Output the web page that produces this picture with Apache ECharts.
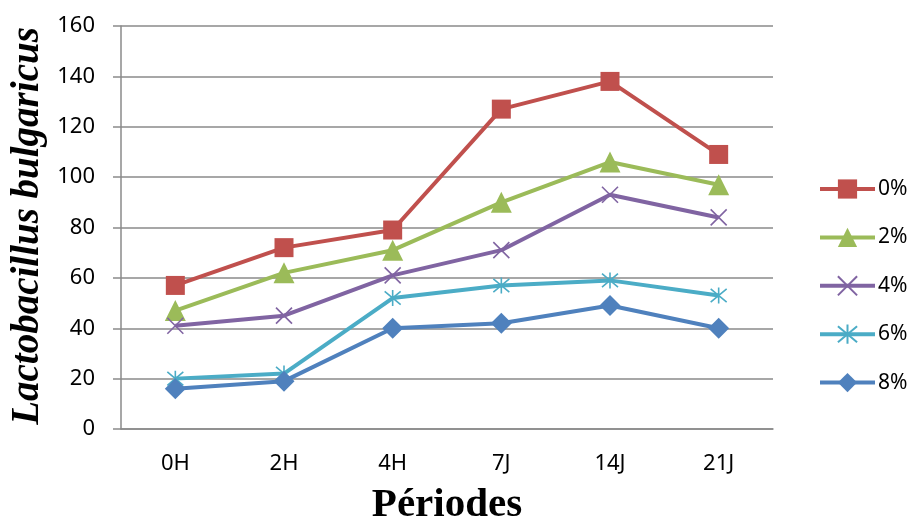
<!DOCTYPE html>
<html>
<head>
<meta charset="utf-8">
<script src="https://cdn.jsdelivr.net/npm/echarts@6/dist/echarts.min.js"></script>
<style>
  html, body { margin: 0; padding: 0; background: #fff; }
  #chart { width: 908px; height: 528px; }
</style>
</head>
<body>
<div id="chart"></div>
<script>
// Sampling periods (hours, then days)
const periods = ['0H', '2H', '4H', '7J', '14J', '21J'];

// Lactobacillus bulgaricus counts per concentration
const s0 = [57, 72, 79, 127, 138, 109];
const s2 = [47, 62, 71, 90, 106, 97];
const s4 = [41, 45, 61, 71, 93, 84];
const s6 = [20, 22, 52, 57, 59, 53];
const s8 = [16, 19, 40, 42, 49, 40];

const seriesNames = ['0%', '2%', '4%', '6%', '8%'];
const yTicks = { min: 0, max: 160, interval: 20 };

const colors = ['#C0504D', '#9BBB59', '#8064A2', '#4BACC6', '#4F81BD'];
const CROSS = 'path://M0,0L10,10M10,0L0,10';
const STAR = 'path://M0,0L10,10M10,0L0,10M5,-1L5,11';

function makeSeries(name, data, color, symbol, size, stroked) {
  return {
    name: name,
    type: 'line',
    data: data,
    symbol: symbol,
    symbolSize: size,
    showSymbol: true,
    lineStyle: { color: color, width: 4 },
    itemStyle: stroked
      ? { color: color, borderColor: color, borderWidth: 1.6 }
      : { color: color, borderWidth: 0 },
    emphasis: { disabled: true },
    z: 3
  };
}

const chart = echarts.init(document.getElementById('chart'), null, { renderer: 'canvas' });

chart.setOption({
  animation: false,
  backgroundColor: '#ffffff',
  grid: { left: 121, top: 26, right: 135, bottom: 99, containLabel: false },
  legend: {
    orient: 'vertical',
    left: 813,
    top: 172,
    itemWidth: 55,
    itemHeight: 24,
    itemGap: 24.4,
    lineStyle: { width: 4 },
    textStyle: { fontFamily: 'Noto Sans', fontSize: 21, lineHeight: 24, color: '#000', padding: [0, 0, 0, -2] },
    data: seriesNames
  },
  xAxis: {
    type: 'category',
    data: periods,
    boundaryGap: true,
    axisLine: { show: true, lineStyle: { color: '#8a8a8a', width: 1.5 } },
    axisTick: { show: false },
    axisLabel: { fontFamily: 'Noto Sans', fontSize: 22, color: '#000', margin: 24 },
    splitLine: { show: false }
  },
  yAxis: {
    type: 'value',
    min: yTicks.min,
    max: yTicks.max,
    interval: yTicks.interval,
    axisLine: { show: true, lineStyle: { color: '#8a8a8a', width: 1.5 } },
    axisTick: { show: true, length: 8, lineStyle: { color: '#8a8a8a', width: 1.5 } },
    axisLabel: { fontFamily: 'Noto Sans', fontSize: 22, color: '#000', margin: 26 },
    splitLine: { show: true, lineStyle: { color: '#8a8a8a', width: 1.5 } }
  },
  graphic: [
    {
      type: 'text',
      x: 47,
      y: 226,
      rotation: Math.PI / 2,
      style: {
        text: 'Lactobacillus bulgaricus',
        font: 'italic bold 39px "Liberation Serif"',
        fill: '#000',
        textAlign: 'center',
        textVerticalAlign: 'bottom'
      }
    },
    {
      type: 'text',
      x: 447,
      y: 526,
      style: {
        text: 'Périodes',
        font: 'bold 41px "Liberation Serif"',
        fill: '#000',
        textAlign: 'center',
        textVerticalAlign: 'bottom'
      }
    }
  ],
  series: [
    makeSeries('0%', s0, colors[0], 'rect', 19, false),
    makeSeries('2%', s2, colors[1], 'triangle', 21, false),
    makeSeries('4%', s4, colors[2], CROSS, 16, true),
    makeSeries('6%', s6, colors[3], STAR, 16, true),
    makeSeries('8%', s8, colors[4], 'diamond', 21, false)
  ]
});
</script>
</body>
</html>
